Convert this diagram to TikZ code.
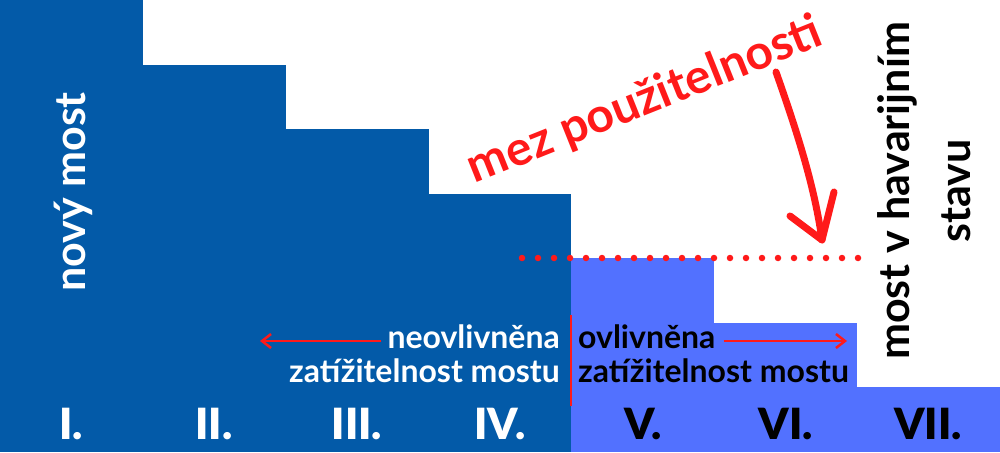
\documentclass[tikz,border=0pt]{standalone}
\usepackage{fontspec}
\setmainfont{Lato}
\IfFontExistsTF{Lato Black}{\newfontfamily\numfont{Lato Black}}{\newfontfamily\numfont{Lato}[UprightFont=*-Bold]}
\usetikzlibrary{arrows.meta}
\definecolor{dblue}{HTML}{035AA8}
\definecolor{lblue}{HTML}{5271FF}
\definecolor{rred}{HTML}{FF1A1A}
\begin{document}
\begin{tikzpicture}[x=1pt,y=-1pt,
  lab/.style={font=\bfseries\fontsize{32}{36}\selectfont, inner sep=0pt},
  num/.style={font=\numfont\fontsize{43}{50}\selectfont, inner sep=0pt, anchor=base},
  big/.style={font=\bfseries\fontsize{43}{61}\selectfont, inner sep=0pt, rotate=90, align=center},
  thinarrow/.style={rred, line width=2.5pt, -{Straight Barb[length=9pt,width=14pt]}},
]
\useasboundingbox (0,0) rectangle (1000,452);
\fill[white] (0,0) rectangle (1000,452);
% staircase
\fill[dblue] (0,0) rectangle (143,452);
\fill[dblue] (143,64.6) rectangle (286,452);
\fill[dblue] (286,129.1) rectangle (429,452);
\fill[dblue] (429,193.7) rectangle (571,452);
\fill[lblue] (571,258.3) rectangle (714,452);
\fill[lblue] (714,322.9) rectangle (857,452);
\fill[lblue] (857,387.4) rectangle (1000,452);
% numerals
\node[num, white] (n1) at (71,439) {I.};
\node[num, white] (n2) at (214,439) {II.};
\node[num, white] (n3) at (357,439) {III.};
\node[num, white] (n4) at (500,439) {IV.};
\node[num, black] (n5) at (643,439) {V.};
\node[num, black] (n6) at (786,439) {VI.};
\node[num, black] (n7) at (928,439) {VII.};
% vertical labels
\node[big, white] (novy) at (73,192) {nový most};
\node[big, black] (havar) at (924,191) {most v havarijním\\stavu};
% labels
\node[lab, white, anchor=base east] (neo) at (560,348) {neovlivněna};
\node[lab, white, anchor=base east] (zat1) at (560,382) {zatížitelnost mostu};
\node[lab, black, anchor=base west] (ovl) at (578,348) {ovlivněna};
\node[lab, black, anchor=base west] (zat2) at (578,382) {zatížitelnost mostu};
\coordinate (lend) at (260,341);
\coordinate (rend) at (847,341);
\draw[thinarrow] ([xshift=-6pt]neo.west |- lend) -- (lend);
\draw[thinarrow] ([xshift=8pt]ovl.east |- rend) -- (rend);
\coordinate (sepT) at (570.5,315);
\coordinate (sepB) at (570.5,406);
\draw[rred, line width=2pt] (sepT) -- (sepB);
% dotted limit
\coordinate (dotA) at (522,258);
\coordinate (dotB) at (858.1,258);
\draw[rred, line width=6.5pt, line cap=round, dash pattern=on 0pt off 16pt] (dotA) -- (dotB);
% mez pouzitelnosti
\node[font=\bfseries\fontsize{48}{52}\selectfont, text=rred, rotate=21.8, inner sep=0pt] (mez) at (645,101) {mez použitelnosti};
\coordinate (cA) at (776,72);
\coordinate (cTip) at (822,240);
\coordinate (bL) at (790,216);
\coordinate (bR) at (834,192);
\draw[rred, line width=7pt, line cap=round, line join=round] (cA) .. controls (800,140) and (815,190) .. (cTip);
\draw[rred, line width=7pt, line cap=round, line join=round] (bL) -- (cTip) -- (bR);
\end{tikzpicture}
\end{document}
